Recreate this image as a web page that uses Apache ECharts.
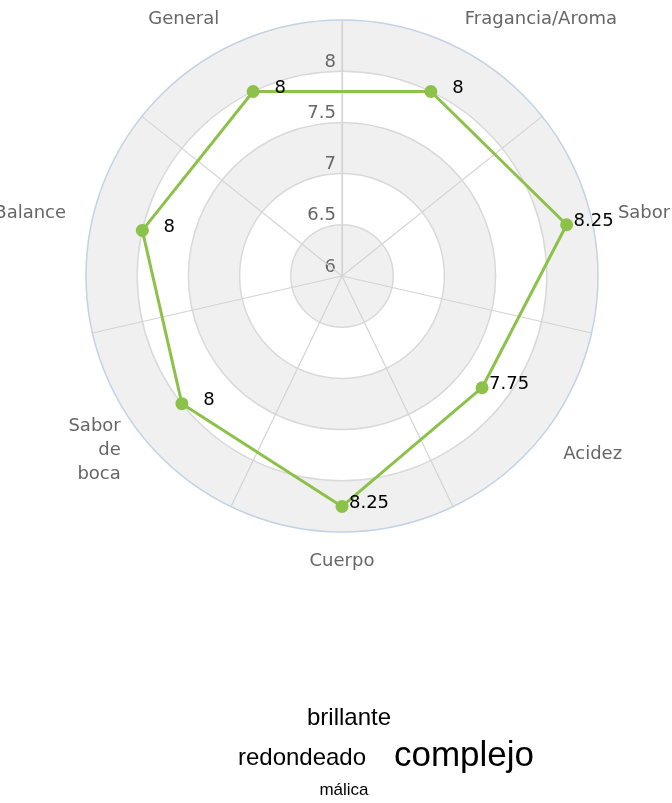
<!DOCTYPE html>
<html>
<head>
<meta charset="utf-8">
<script src="https://cdn.jsdelivr.net/npm/echarts@6/dist/echarts.min.js"></script>
<style>
  html, body { margin: 0; padding: 0; background: #fff; }
  #chart { width: 672px; height: 803px; }
</style>
</head>
<body>
<div id="chart"></div>
<script>
const categories = ['Fragancia/Aroma', 'Sabor', 'Acidez', 'Cuerpo', 'Sabor de boca', 'Balance', 'General'];
const scores = [8, 8.25, 7.75, 8.25, 8, 8, 8];
const scoreMin = 6;
const scoreMax = 8.5;
const scoreStep = 0.5;

const words = ['brillante', 'redondeado', 'complejo', 'málica'];
const wordWeights = [2, 2, 3, 1];

// word cloud layout (placement only)
const WORD_SIZE = { 1: 17, 2: 24, 3: 35 };
const WORD_POS = [[349, 718], [302, 758], [464, 756], [344, 790]];

const FONT = 'DejaVu Sans';
const GREEN = '#8cc14a';
const CENTER = [342, 276];
const RADIUS = 256;

const chart = echarts.init(document.getElementById('chart'));

// angle axis entries; the wrapped label gets its own text style
const angleData = categories.map((name) => {
  if (name.indexOf(' ') < 0) return name;
  return { value: name, textStyle: { lineHeight: 24, padding: [-38, 0, 0, 0] } };
});

const lineData = scores.map((v, i) => [v, i]);
// close the polygon back to the first point
lineData.push({ value: [scores[0], 0], symbol: 'none', label: { show: false } });

const option = {
  animation: false,
  // polar 0 only paints the alternating bands, polar 1 carries lines, labels and data
  polar: [
    { center: CENTER, radius: RADIUS },
    { center: CENTER, radius: RADIUS },
  ],
  angleAxis: [
    {
      polarIndex: 0,
      type: 'category',
      data: categories,
      startAngle: 90,
      clockwise: true,
      boundaryGap: true,
      show: false,
    },
    {
      polarIndex: 1,
      type: 'category',
      data: angleData,
      startAngle: 90,
      clockwise: true,
      boundaryGap: true,
      axisLine: { show: true, lineStyle: { color: '#c3d2e4', width: 1.5 } },
      axisTick: { show: false },
      splitLine: { show: true, lineStyle: { color: '#d4d4d4', width: 1.2 } },
      axisLabel: {
        margin: 27,
        color: '#666',
        fontFamily: FONT,
        fontSize: 18,
        lineHeight: 4,
        formatter: (v) => v.split(' ').join('\n'),
      },
      z: 3,
    },
  ],
  radiusAxis: [
    {
      polarIndex: 0,
      type: 'value',
      min: scoreMin,
      max: scoreMax,
      interval: scoreStep,
      axisLine: { show: false },
      axisTick: { show: false },
      axisLabel: { show: false },
      splitLine: { show: false },
      splitArea: { show: true, areaStyle: { color: ['#f0f0f0', '#ffffff'] } },
      z: 1,
    },
    {
      polarIndex: 1,
      type: 'value',
      min: scoreMin,
      max: scoreMax,
      interval: scoreStep,
      axisLine: { show: true, lineStyle: { color: '#d4d4d4', width: 1.2 } },
      axisTick: { show: false },
      axisLabel: {
        showMaxLabel: false,
        color: '#666',
        fontFamily: FONT,
        fontSize: 18,
        margin: 6,
        verticalAlign: 'bottom',
      },
      splitLine: {
        show: true,
        lineStyle: { color: ['#d9d9d9', '#d9d9d9', '#d9d9d9', '#d9d9d9', '#d9d9d9', 'rgba(0,0,0,0)'], width: 1.5 },
      },
      splitArea: { show: false },
      z: 2,
    },
  ],
  series: [
    {
      type: 'line',
      coordinateSystem: 'polar',
      polarIndex: 1,
      data: lineData,
      symbol: 'circle',
      symbolSize: 13,
      itemStyle: { color: GREEN },
      lineStyle: { color: GREEN, width: 3 },
      label: {
        show: true,
        position: 'inside',
        offset: [27, -3],
        color: '#000',
        fontFamily: FONT,
        fontSize: 18,
        formatter: (p) => String(p.value[0]),
      },
      z: 5,
    },
  ],
  graphic: words.map((w, i) => ({
    type: 'text',
    x: WORD_POS[i][0],
    y: WORD_POS[i][1],
    style: {
      text: w,
      fill: '#000',
      fontFamily: 'Liberation Sans, Arial, sans-serif',
      fontSize: WORD_SIZE[wordWeights[i]],
      align: 'center',
      verticalAlign: 'middle',
    },
  })),
};

chart.setOption(option);

window.addEventListener('resize', () => chart.resize());
</script>
</body>
</html>
